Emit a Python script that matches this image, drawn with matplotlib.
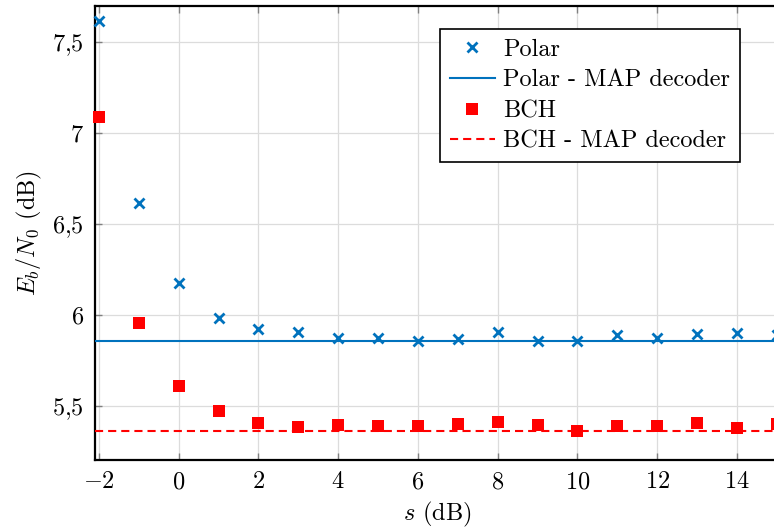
import matplotlib
matplotlib.use('Agg')
import matplotlib.pyplot as plt
from matplotlib.ticker import FuncFormatter

plt.rcParams['font.family'] = 'cmr10'
plt.rcParams['mathtext.fontset'] = 'cm'
plt.rcParams['axes.formatter.use_mathtext'] = True

FS = 17.5

s_db = [-2, -1, 0, 1, 2, 3, 4, 5, 6, 7, 8, 9, 10, 11, 12, 13, 14, 15]
polar = [7.617, 6.614, 6.173, 5.983, 5.919, 5.902, 5.871, 5.873, 5.857,
         5.866, 5.902, 5.855, 5.855, 5.890, 5.873, 5.893, 5.901, 5.89]
bch = [7.087, 5.952, 5.606, 5.471, 5.406, 5.384, 5.391, 5.386, 5.388,
       5.400, 5.408, 5.393, 5.362, 5.388, 5.390, 5.406, 5.375, 5.40]
polar_map = 5.855
bch_map = 5.36

x_ticks = [-2, 0, 2, 4, 6, 8, 10, 12, 14]
y_ticks = [5.5, 6, 6.5, 7, 7.5]

blue = '#0072BD'
red = '#FF0000'

fig = plt.figure(figsize=(7.74, 5.30), dpi=100)
ax = fig.add_axes([0.1227, 0.132, 0.886, 0.857])

ax.plot(s_db, polar, linestyle='none', marker='x', ms=7.5, mew=2,
        color=blue, label='Polar', clip_on=False, zorder=4)
ax.axhline(polar_map, color=blue, lw=1.5, label='Polar - MAP decoder', zorder=3)
ax.plot(s_db, bch, linestyle='none', marker='s', ms=9, mew=0,
        color=red, label='BCH', clip_on=False, zorder=4)
ax.axhline(bch_map, color=red, lw=1.5, dashes=(3.9, 2.4), label='BCH - MAP decoder', zorder=3)

ax.set_xlim(-2.1, 15.1)
ax.set_ylim(5.2, 7.7)
ax.set_xticks(x_ticks)
ax.set_yticks(y_ticks)
ax.xaxis.set_major_formatter(FuncFormatter(lambda v, p: '$%g$' % v))
ax.yaxis.set_major_formatter(FuncFormatter(lambda v, p: ('$%g$' % v).replace('.', '{,}')))

ax.grid(True, color='#dcdcdc', lw=0.9)
ax.set_axisbelow(True)
ax.tick_params(direction='in', length=5, width=1, color='#808080',
               top=True, right=True, pad=8, labelsize=FS)
for sp in ax.spines.values():
    sp.set_linewidth(1.6)
    sp.set_color('black')

ax.set_xlabel('$s$ (dB)', fontsize=FS, labelpad=5)
ax.set_ylabel('$E_b/N_0$ (dB)', fontsize=FS, labelpad=6)

leg = ax.legend(loc='upper left', bbox_to_anchor=(0.5685, 0.9453),
                bbox_transform=fig.transFigure, borderaxespad=0,
                fancybox=False, framealpha=1, edgecolor='black',
                handlelength=1.85, handletextpad=0.35, labelspacing=0.35,
                borderpad=0.4, fontsize=FS)
leg.get_frame().set_linewidth(1.2)

fig.savefig('out.png', dpi=100)
plt.close(fig)
